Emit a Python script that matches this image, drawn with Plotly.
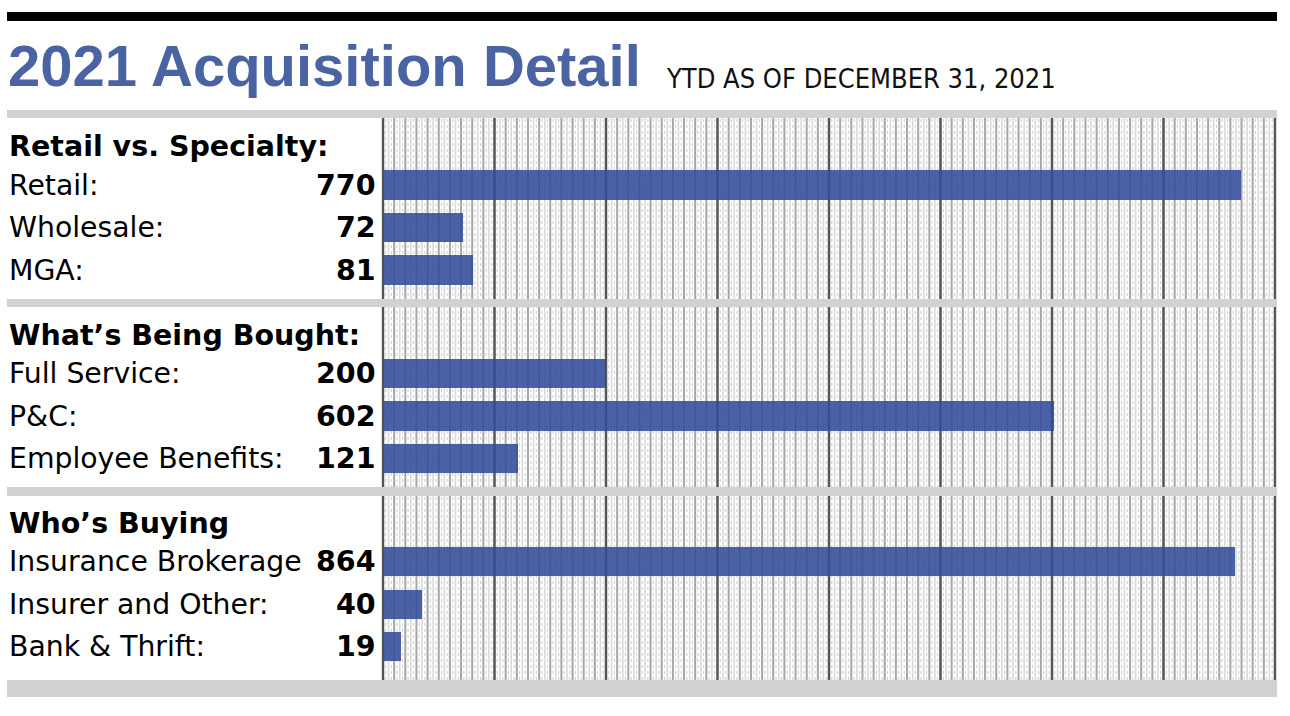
import plotly.graph_objects as go

# ---- data ----
title_text = "2021 Acquisition Detail"
subtitle_text = "YTD AS OF DECEMBER 31, 2021"

sec1_header = "Retail vs. Specialty:"
sec1_labels = ["Retail:", "Wholesale:", "MGA:"]
sec1_values = [770, 72, 81]

sec2_header = "What\u2019s Being Bought:"
sec2_labels = ["Full Service:", "P&C:", "Employee Benefits:"]
sec2_values = [200, 602, 121]

sec3_header = "Who\u2019s Buying"
sec3_labels = ["Insurance Brokerage", "Insurer and Other:", "Bank & Thrift:"]
sec3_values = [864, 40, 19]

W, H = 1290, 716
BLUE_TITLE = "#4a64a3"
BAR = "rgba(50,76,154,0.88)"
BAND = "#d1d2d4"
LABEL_FONT = "DejaVu Sans"

def px_y(p):
    return 1 - p / H

def px_x(p):
    return p / W

fig = go.Figure()

sections = [
    (sec1_header, sec1_labels, sec1_values, (118, 299), (185, 227.5, 270), "x", "y"),
    (sec2_header, sec2_labels, sec2_values, (307, 487), (373.5, 416.5, 458.5), "x2", "y2"),
    (sec3_header, sec3_labels, sec3_values, (496, 680), (562, 604.5, 646.5), "x3", "y3"),
]

ROW = 42.5
x_left_px, x_right_px = 381.3, 1276.7
zero_px = 383
scale12 = 892 / 800.0          # px per unit, sections 1 & 2
scale3 = 852 / 864.0           # px per unit, section 3

layout_axes = {}
annotations = []
for i, (hdr, labels, values, (top, bot), centers, xa, ya) in enumerate(sections):
    n = i + 1
    suffix = "" if n == 1 else str(n)
    sc = scale3 if n == 3 else scale12
    xr = [(x_left_px - zero_px) / sc, (x_right_px - zero_px) / sc]
    yr_top = 1 - (centers[0] - top) / ROW
    yr_bot = 3 + (bot - centers[2]) / ROW
    layout_axes["xaxis" + suffix] = dict(
        domain=[px_x(x_left_px), px_x(x_right_px)], range=xr,
        showgrid=False, zeroline=False, showticklabels=False, ticks="",
        anchor="y" + suffix, fixedrange=True,
    )
    layout_axes["yaxis" + suffix] = dict(
        domain=[px_y(bot), px_y(top)], range=[yr_bot, yr_top],
        showgrid=False, zeroline=False, showticklabels=False, ticks="",
        anchor="x" + suffix, fixedrange=True,
    )
    fig.add_trace(go.Bar(
        x=values, y=[1, 2, 3], orientation="h", width=0.69,
        marker=dict(color=BAR, line=dict(width=0)),
        xaxis=xa, yaxis=ya, showlegend=False, hoverinfo="skip",
    ))
    annotations.append(dict(
        text=hdr, x=px_x(7), xref="paper", xanchor="left",
        y=0.1, yref=ya, yanchor="middle", showarrow=False,
        font=dict(family=LABEL_FONT, size=28.5, color="black", weight=700),
    ))
    for j, (lab, val) in enumerate(zip(labels, values)):
        annotations.append(dict(
            text=lab, x=px_x(7), xref="paper", xanchor="left",
            y=j + 1, yref=ya, yanchor="middle", showarrow=False,
            font=dict(family=LABEL_FONT, size=28.3, color="black"),
        ))
        annotations.append(dict(
            text=str(val), x=px_x(378), xref="paper", xanchor="right",
            y=j + 1, yref=ya, yanchor="middle", showarrow=False,
            font=dict(family=LABEL_FONT, size=28.5, color="black", weight=700),
        ))

# title / subtitle
annotations.append(dict(
    text=title_text, x=px_x(6), xref="paper", xanchor="left",
    y=px_y(89), yref="paper", yanchor="bottom", yshift=-11, showarrow=False,
    font=dict(family="Liberation Sans", size=58, color=BLUE_TITLE, weight=700),
))
annotations.append(dict(
    text=subtitle_text, x=px_x(664), xref="paper", xanchor="left",
    y=px_y(89), yref="paper", yanchor="bottom", yshift=-7, showarrow=False,
    font=dict(family="DejaVu Sans Condensed, Liberation Sans Narrow, Liberation Sans",
              size=27, color="#111111"),
))

# grid (pixel-space pattern, referenced to section-1 axis)
shapes = []
u = 0.0
while u <= 800.001:
    if abs(u % 100) < 1e-6:
        st = dict(color="#555555", width=2.5)
    elif abs(u % 10) < 1e-6:
        st = dict(color="#a6a6a8", width=2)
    elif abs(u % 5) < 1e-6:
        st = dict(color="#dadadc", width=1.6)
    else:
        st = dict(color="#d0d0d2", width=1.1, dash="dot")
    shapes.append(dict(type="line", xref="x", yref="paper", x0=u, x1=u,
                       y0=px_y(680), y1=px_y(118), line=st, layer="below"))
    u += 2.5

# bands
for (t, b) in [(110, 118), (299, 307), (487, 496), (680, 697)]:
    shapes.append(dict(type="rect", xref="paper", yref="paper",
                       x0=px_x(7), x1=px_x(1277), y0=px_y(b), y1=px_y(t),
                       fillcolor=BAND, line=dict(width=0), layer="below"))
# top black rule
shapes.append(dict(type="rect", xref="paper", yref="paper",
                   x0=px_x(7), x1=px_x(1277), y0=px_y(21), y1=px_y(12),
                   fillcolor="black", line=dict(width=0), layer="below"))

fig.update_layout(
    width=W, height=H, margin=dict(l=0, r=0, t=0, b=0),
    paper_bgcolor="white", plot_bgcolor="rgba(0,0,0,0)",
    barmode="overlay", bargap=0,
    shapes=shapes, annotations=annotations,
    **layout_axes,
)

fig.write_html("out.html", config={"displayModeBar": False},
               post_script="document.body.style.margin='0px';document.body.style.overflow='hidden';")
